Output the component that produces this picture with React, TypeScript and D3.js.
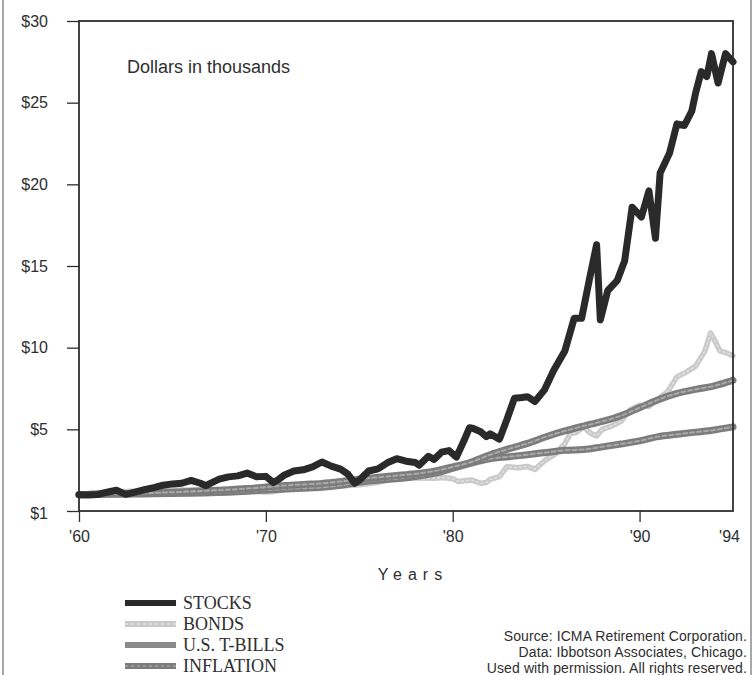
import * as d3 from "d3";
import { useEffect, useRef } from "react";

type Pt = [number, number];

// growth of $1,000 (in thousands)
const STOCKS: Pt[] = [
  [1960.0, 1.0], [1960.5, 0.98], [1961.0, 1.01], [1961.5, 1.15], [1962.0, 1.27],
  [1962.5, 1.02], [1963.0, 1.16], [1963.5, 1.3], [1964.0, 1.43], [1964.5, 1.58],
  [1965.0, 1.66], [1965.5, 1.7], [1966.0, 1.87], [1966.5, 1.7], [1966.8, 1.55],
  [1967.0, 1.68], [1967.5, 1.95], [1968.0, 2.09], [1968.5, 2.15], [1969.0, 2.32],
  [1969.5, 2.1], [1970.0, 2.12], [1970.4, 1.75], [1970.7, 1.95], [1971.0, 2.21],
  [1971.5, 2.45], [1972.0, 2.52], [1972.5, 2.7], [1973.0, 3.0], [1973.5, 2.75],
  [1974.0, 2.56], [1974.4, 2.25], [1974.75, 1.7], [1975.0, 1.88], [1975.5, 2.45],
  [1976.0, 2.58], [1976.5, 2.95], [1977.0, 3.2], [1977.5, 3.05], [1978.0, 2.97],
  [1978.2, 2.8], [1978.7, 3.35], [1979.0, 3.16], [1979.4, 3.6], [1979.8, 3.7],
  [1980.2, 3.3], [1980.6, 4.3], [1980.9, 5.1], [1981.1, 5.05], [1981.5, 4.85],
  [1981.8, 4.55], [1982.0, 4.72], [1982.5, 4.4], [1982.9, 5.6], [1983.3, 6.9],
  [1983.7, 6.95], [1984.0, 7.0], [1984.4, 6.7], [1984.9, 7.4], [1985.4, 8.6],
  [1986.0, 9.8], [1986.5, 11.8], [1986.9, 11.8], [1987.3, 14.1], [1987.7, 16.3],
  [1987.9, 11.7], [1988.3, 13.5], [1988.8, 14.1], [1989.2, 15.3], [1989.6, 18.6],
  [1990.1, 18.0], [1990.5, 19.6], [1990.85, 16.7], [1991.1, 20.7], [1991.6, 21.9],
  [1992.0, 23.7], [1992.4, 23.6], [1992.8, 24.5], [1993.0, 25.6], [1993.3, 26.9],
  [1993.6, 26.6], [1993.85, 28.0], [1994.2, 26.2], [1994.6, 28.0], [1995.0, 27.5],
];

const BONDS: Pt[] = [
  [1960.0, 1.0], [1961.0, 1.14], [1962.0, 1.15], [1963.0, 1.23], [1964.0, 1.24],
  [1965.0, 1.29], [1966.0, 1.3], [1967.0, 1.34], [1968.0, 1.22], [1969.0, 1.22],
  [1970.0, 1.16], [1970.5, 1.2], [1971.0, 1.3], [1972.0, 1.47], [1973.0, 1.55],
  [1974.0, 1.53], [1975.0, 1.6], [1976.0, 1.75], [1977.0, 2.04], [1978.0, 2.02],
  [1979.0, 2.0], [1979.5, 2.05], [1980.0, 1.98], [1980.3, 1.8], [1980.6, 1.85],
  [1981.0, 1.9], [1981.5, 1.7], [1981.8, 1.75], [1982.0, 1.93], [1982.5, 2.1],
  [1982.9, 2.71], [1983.5, 2.65], [1984.0, 2.73], [1984.4, 2.55], [1985.0, 3.15],
  [1985.5, 3.5], [1986.0, 4.13], [1986.3, 4.75], [1986.6, 4.8], [1987.0, 5.14],
  [1987.4, 4.75], [1987.7, 4.6], [1988.0, 5.0], [1988.5, 5.2], [1989.0, 5.49],
  [1989.5, 6.2], [1990.0, 6.48], [1990.5, 6.4], [1991.0, 6.88], [1991.5, 7.3],
  [1992.0, 8.21], [1992.5, 8.5], [1993.0, 8.87], [1993.5, 9.8], [1993.8, 10.9],
  [1994.0, 10.49], [1994.3, 9.8], [1994.6, 9.7], [1995.0, 9.5],
];

const ANNUAL_YEARS = d3.range(1960, 1996);
const TBILLS = [
  1.0, 1.027, 1.049, 1.077, 1.111, 1.15, 1.195, 1.252, 1.305, 1.373, 1.463, 1.558,
  1.627, 1.689, 1.806, 1.951, 2.064, 2.169, 2.28, 2.444, 2.698, 3.001, 3.442, 3.805,
  4.14, 4.548, 4.899, 5.201, 5.485, 5.833, 6.322, 6.815, 7.197, 7.449, 7.665, 8.0,
];
const INFLATION = [
  1.0, 1.015, 1.022, 1.034, 1.051, 1.064, 1.084, 1.121, 1.155, 1.209, 1.283, 1.353,
  1.398, 1.446, 1.573, 1.765, 1.889, 1.98, 2.114, 2.305, 2.612, 2.936, 3.198, 3.322,
  3.448, 3.584, 3.72, 3.762, 3.928, 4.101, 4.292, 4.554, 4.693, 4.829, 4.962, 5.15,
];

const Y_TICKS = [0, 5, 10, 15, 20, 25, 30];
const Y_LABELS = ["$1", "$5", "$10", "$15", "$20", "$25", "$30"];
const X_TICKS = [1960, 1970, 1980, 1990];
const X_LABELS = ["'60", "'70", "'80", "'90"];
const X_END = 1995;
const X_END_LABEL = "'94";

const LEGEND = ["STOCKS", "BONDS", "U.S. T-BILLS", "INFLATION"];
const SOURCE_LINES = [
  "Source: ICMA Retirement Corporation.",
  "Data: Ibbotson Associates, Chicago.",
  "Used with permission. All rights reserved.",
];

const SANS = "'Liberation Sans', Arial, Helvetica, sans-serif";
const SERIF = "'Liberation Serif', 'Times New Roman', serif";
const INK = "#2e2e2e";

export default function App() {
  const ref = useRef<SVGSVGElement | null>(null);

  useEffect(() => {
    const el = ref.current;
    if (!el) return;
    const svg = d3.select(el);
    svg.selectAll("*").remove();

    const W = 755;
    const H = 675;
    const left = 79;
    const right = 733;
    const top = 21;
    const bottom = 511;

    const x = d3.scaleLinear().domain([1960, X_END]).range([left, right]);
    const y = d3.scaleLinear().domain([0, 30]).range([bottom, top]);

    svg.attr("viewBox", `0 0 ${W} ${H}`);
    svg.append("rect").attr("width", W).attr("height", H).attr("fill", "#fff");

    // page edges from the scan
    svg.append("line").attr("x1", 3).attr("x2", 3).attr("y1", 0).attr("y2", H)
      .attr("stroke", "#8a8a8a").attr("stroke-width", 1.5);
    svg.append("line").attr("x1", 751).attr("x2", 751).attr("y1", 0).attr("y2", H)
      .attr("stroke", "#8a8a8a").attr("stroke-width", 1.5);

    // y axis
    svg.append("g")
      .attr("transform", `translate(${left},0)`)
      .call(
        d3.axisLeft(y)
          .tickValues(Y_TICKS)
          .tickFormat((_, i) => Y_LABELS[i])
          .tickSize(12)
          .tickPadding(19),
      )
      .call((g) => g.select(".domain").remove())
      .call((g) => g.selectAll(".tick line").attr("stroke", INK).attr("stroke-width", 1.3))
      .call((g) =>
        g.selectAll(".tick text")
          .attr("fill", INK)
          .attr("font-size", 16)
          .attr("font-family", SANS)
          .attr("dy", (d) => (d === 0 ? "0.45em" : "0.32em")),
      );

    // x axis
    svg.append("g")
      .attr("transform", `translate(0,${bottom})`)
      .call(
        d3.axisBottom(x)
          .tickValues([...X_TICKS, X_END])
          .tickFormat((_, i) => (i < X_LABELS.length ? X_LABELS[i] : X_END_LABEL))
          .tickSize(11)
          .tickPadding(9),
      )
      .call((g) => g.select(".domain").remove())
      .call((g) =>
        g.selectAll(".tick line")
          .attr("stroke", INK)
          .attr("stroke-width", 1.3)
          .attr("opacity", (d) => (d === X_END ? 0 : 1)),
      )
      .call((g) =>
        g.selectAll(".tick text")
          .attr("fill", INK)
          .attr("font-size", 16)
          .attr("font-family", SANS)
          .attr("dx", (d) => (d === X_END ? -4 : 0)),
      );

    const curve = d3.line<Pt>().x((d) => x(d[0])).y((d) => y(d[1]));
    const smooth = d3.line<Pt>().x((d) => x(d[0])).y((d) => y(d[1])).curve(d3.curveMonotoneX);

    const tbills: Pt[] = ANNUAL_YEARS.map((yr, i) => [yr, TBILLS[i]]);
    const inflation: Pt[] = ANNUAL_YEARS.map((yr, i) => [yr, INFLATION[i]]);

    const plot = svg.append("g").attr("fill", "none").attr("stroke-linejoin", "round").attr("stroke-linecap", "round");

    plot.append("path").attr("d", curve(BONDS)).attr("stroke", "#c9c9c9").attr("stroke-width", 5.5);
    plot.append("path").attr("d", curve(BONDS)).attr("stroke", "#e2e2e2").attr("stroke-width", 1.5)
      .attr("stroke-dasharray", "2 3");

    for (const s of [inflation, tbills]) {
      plot.append("path").attr("d", smooth(s)).attr("stroke", "#7c7c7c").attr("stroke-width", 7);
      plot.append("path").attr("d", smooth(s)).attr("stroke", "#a9a9a9").attr("stroke-width", 2)
        .attr("stroke-dasharray", "4 3");
    }

    plot.append("path").attr("d", curve(STOCKS)).attr("stroke", "#2a2a2a").attr("stroke-width", 7);

    // frame
    svg.append("rect")
      .attr("x", left).attr("y", top)
      .attr("width", right - left).attr("height", bottom - top)
      .attr("fill", "none").attr("stroke", INK).attr("stroke-width", 1.8);

    svg.append("text")
      .attr("x", 127).attr("y", 73)
      .attr("font-family", SANS).attr("font-size", 18).attr("fill", INK)
      .text("Dollars in thousands");

    svg.append("text")
      .attr("x", 413).attr("y", 580)
      .attr("text-anchor", "middle")
      .attr("font-family", SANS).attr("font-size", 16).attr("fill", INK)
      .attr("letter-spacing", 6)
      .text("Years");

    // legend
    const swatch = [
      { stroke: "#2a2a2a", inner: null },
      { stroke: "#c9c9c9", inner: "#e2e2e2" },
      { stroke: "#8a8a8a", inner: null },
      { stroke: "#7c7c7c", inner: "#a0a0a0" },
    ];
    const lg = svg.append("g");
    LEGEND.forEach((name, i) => {
      const cy = 603 + i * 21;
      lg.append("line").attr("x1", 125).attr("x2", 176).attr("y1", cy).attr("y2", cy)
        .attr("stroke", swatch[i].stroke).attr("stroke-width", 6);
      if (swatch[i].inner) {
        lg.append("line").attr("x1", 125).attr("x2", 176).attr("y1", cy).attr("y2", cy)
          .attr("stroke", swatch[i].inner!).attr("stroke-width", 1.5).attr("stroke-dasharray", "3 3");
      }
      lg.append("text").attr("x", 183).attr("y", cy + 6)
        .attr("font-family", SERIF).attr("font-size", 18).attr("fill", INK)
        .text(name);
    });

    SOURCE_LINES.forEach((line, i) => {
      svg.append("text")
        .attr("x", 747).attr("y", 641 + i * 16)
        .attr("text-anchor", "end")
        .attr("font-family", SANS).attr("font-size", 14).attr("fill", INK)
        .attr("letter-spacing", 0.1)
        .text(line);
    });
  }, []);

  return (
    <svg
      ref={ref}
      width={755}
      height={675}
      style={{ position: "absolute", left: 0, top: 0, display: "block" }}
    />
  );
}
